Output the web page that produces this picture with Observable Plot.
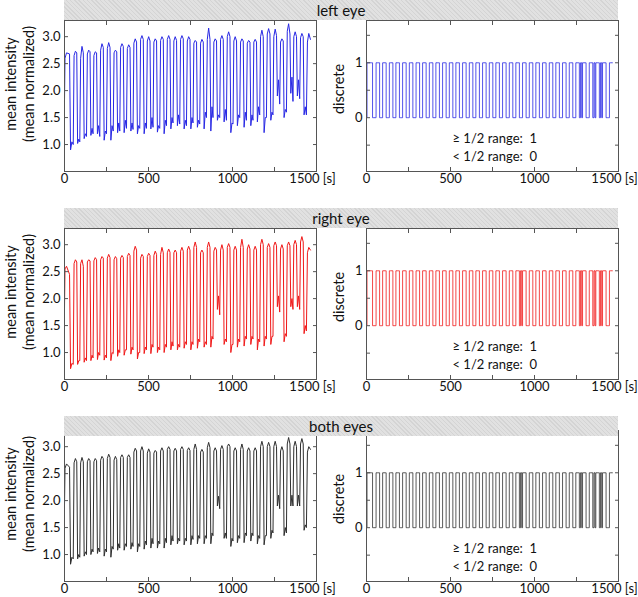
<!DOCTYPE html>
<html><head><meta charset="utf-8">
<script src="https://cdn.jsdelivr.net/npm/d3@7"></script>
<script src="https://cdn.jsdelivr.net/npm/@observablehq/plot@0.6"></script>
<style>
body{margin:0;background:#fff;font-family:Lato,sans-serif}
#wrap{position:relative;width:638px;height:597px;overflow:hidden;background:#fff}
#wrap svg{position:absolute;overflow:visible}
.hdr{position:absolute;left:64px;width:554px;height:20px;
 background:repeating-linear-gradient(45deg,#d4d4d4 0 1px,#e1e1e1 1px 3px);
 font:15px Lato,sans-serif;color:#111;text-align:center;line-height:20px}
</style></head><body><div id="wrap"></div>
<script>
// vertex times [s], shared by the three recordings (6 vertices per cycle)
const time = [
0,3,12,30,36,44, 52,57,65,73,78,85, 91,96,104,112,117,124, 131,136,144,152,157,164,
170,175,183,191,196,203, 210,215,223,231,236,243, 250,255,263,271,276,283, 290,295,303,311,316,323,
329,334,342,350,355,362, 369,374,382,390,395,402, 408,413,421,429,434,441, 448,453,461,469,474,481,
488,493,501,509,514,521, 527,532,540,548,553,560, 567,572,580,588,593,600, 607,612,620,628,633,640,
646,651,659,667,672,679, 686,691,699,707,712,719, 726,731,739,747,752,759, 765,770,778,786,791,798,
805,810,818,826,831,838, 845,850,858,866,871,878, 884,889,897,905,910,917, 924,929,937,945,950,957,
964,969,977,985,990,997, 1003,1008,1016,1024,1029,1036, 1043,1048,1056,1064,1069,1076, 1083,1088,1096,1104,1109,1116,
1122,1127,1135,1143,1148,1155, 1162,1167,1175,1183,1188,1195, 1202,1207,1215,1223,1228,1235, 1241,1246,1254,1262,1267,1274,
1281,1286,1294,1302,1307,1314, 1321,1326,1334,1342,1347,1354, 1360,1365,1373,1381,1386,1393, 1400,1405,1413,1421,1426,1433,
1440,1446,1454,1464];

const leftEye = [
1.8,2.6,2.7,2.68,0.9,1.05, 1.0,2.65,2.73,2.7,1.02,1.1, 1.05,2.6,2.82,2.7,1.11,1.2, 1.15,2.68,2.75,2.72,1.17,1.3,
1.2,2.65,2.72,2.7,1.2,1.35, 1.15,2.75,2.87,2.8,1.08,1.25, 1.2,2.78,2.89,2.8,1.08,1.35, 1.25,2.7,2.75,2.72,1.22,1.4,
1.25,2.8,2.87,2.82,1.22,1.45, 1.3,2.78,2.85,2.8,1.25,1.4, 1.28,2.88,2.96,2.9,1.2,1.35, 1.3,2.95,3.02,2.95,1.2,1.4,
1.3,2.92,3.0,2.92,1.29,1.5, 1.32,2.9,2.96,2.92,1.23,1.35, 1.3,2.93,3.0,2.95,1.2,1.45, 1.35,2.95,3.02,2.95,1.29,1.5,
1.4,2.92,3.0,2.93,1.35,1.55, 1.38,2.95,3.02,2.96,1.29,1.45, 1.35,2.92,3.0,2.95,1.29,1.5, 1.4,2.88,2.93,2.9,1.32,1.45,
1.38,2.88,2.95,2.9,1.29,1.6, 1.5,2.95,3.16,2.95,1.25,1.7, 1.5,2.9,2.96,2.92,1.45,1.55, 1.5,2.95,3.02,2.95,1.42,1.65,
1.45,3.0,3.09,3.0,1.22,1.4, 1.38,2.92,3.0,2.92,1.35,1.55, 1.5,2.9,2.96,2.92,1.32,1.6, 1.45,2.88,2.93,2.9,1.35,1.55,
1.45,2.9,2.95,2.9,1.42,1.7, 1.55,3.0,3.12,3.0,1.22,1.5, 1.5,3.05,3.15,3.05,1.45,1.6, 1.55,3.0,3.14,3.02,1.9,2.2,
1.75,2.9,2.96,2.92,1.5,1.65, 1.6,3.1,3.24,3.05,1.95,2.25, 1.8,3.0,3.09,3.0,1.9,2.2, 1.85,2.98,3.06,3.0,1.55,1.7,
1.55,2.9,3.06,2.95];

const rightEye = [
1.8,2.55,2.6,2.45,0.7,0.8, 0.78,2.65,2.72,2.68,0.78,0.85, 0.85,2.65,2.72,2.6,0.82,0.9, 0.85,2.68,2.72,2.7,0.85,0.95,
0.9,2.7,2.76,2.72,0.87,1.0, 0.95,2.72,2.78,2.75,0.86,0.95, 0.9,2.75,2.82,2.76,0.85,1.0, 0.98,2.72,2.78,2.74,0.93,1.05,
1.0,2.75,2.8,2.76,0.95,1.05, 1.05,2.78,2.84,2.8,0.97,1.1, 1.05,2.88,2.97,2.9,0.88,1.0, 1.0,2.75,2.82,2.78,0.98,1.1,
1.05,2.78,2.84,2.8,0.98,1.15, 1.1,2.8,2.88,2.82,1.0,1.1, 1.05,2.82,2.95,2.85,1.0,1.15, 1.1,2.85,2.92,2.86,1.05,1.2,
1.12,2.85,2.9,2.85,1.05,1.15, 1.1,2.88,2.95,2.88,1.08,1.2, 1.15,2.9,2.97,2.9,1.05,1.2, 1.15,2.95,3.05,2.95,1.08,1.25,
1.2,2.85,2.9,2.85,1.1,1.2, 1.15,2.95,3.05,2.95,1.1,1.3, 1.25,2.88,2.95,2.9,1.8,2.05, 1.7,2.9,3.0,2.9,1.15,1.25,
1.2,2.95,3.02,2.95,1.0,1.15, 1.15,2.9,2.97,2.9,1.1,1.25, 1.2,2.95,3.1,2.95,1.12,1.3, 1.25,2.92,3.0,2.92,1.15,1.3,
1.25,2.9,2.97,2.9,1.05,1.25, 1.2,3.0,3.1,3.0,1.12,1.3, 1.25,2.95,3.02,2.95,1.15,1.3, 1.3,2.98,3.05,2.98,1.85,2.05,
1.75,2.92,3.0,2.92,1.2,1.35, 1.3,2.98,3.05,2.98,1.85,2.0, 1.8,3.0,3.08,3.0,1.85,2.05, 1.8,3.05,3.15,3.05,1.35,1.5,
1.4,2.85,2.95,2.9];

const bothEyes = [
1.9,2.6,2.68,2.62,0.82,0.95, 0.92,2.7,2.78,2.72,0.92,1.0, 0.95,2.7,2.8,2.72,0.97,1.05, 1.0,2.72,2.78,2.74,1.0,1.1,
1.05,2.72,2.78,2.74,1.02,1.12, 1.05,2.75,2.82,2.78,0.97,1.1, 1.05,2.78,2.86,2.8,0.95,1.15, 1.1,2.75,2.82,2.76,1.08,1.2,
1.12,2.8,2.85,2.8,1.08,1.2, 1.15,2.8,2.85,2.8,1.1,1.22, 1.15,2.9,2.97,2.92,1.05,1.2, 1.15,2.92,3.0,2.92,1.1,1.25,
1.18,2.88,2.96,2.9,1.12,1.3, 1.2,2.88,2.93,2.9,1.12,1.25, 1.2,2.92,2.98,2.92,1.12,1.3, 1.22,2.95,3.0,2.95,1.18,1.35,
1.25,2.92,2.97,2.92,1.2,1.3, 1.25,2.95,3.0,2.95,1.18,1.3, 1.25,2.93,2.98,2.93,1.18,1.35, 1.28,2.95,3.05,2.95,1.2,1.35,
1.3,2.9,2.95,2.9,1.2,1.35, 1.3,2.98,3.08,2.98,1.2,1.4, 1.35,2.92,2.98,2.92,1.9,2.08, 1.85,2.95,3.02,2.95,1.3,1.4,
1.3,3.0,3.05,3.0,1.15,1.3, 1.25,2.92,2.98,2.92,1.22,1.35, 1.3,2.95,3.05,2.95,1.22,1.4, 1.35,2.92,2.98,2.92,1.25,1.4,
1.35,2.92,2.98,2.92,1.2,1.35, 1.3,3.0,3.1,3.0,1.18,1.35, 1.35,3.0,3.08,3.0,1.3,1.45, 1.4,3.0,3.1,3.0,1.9,2.1,
1.85,2.92,3.0,2.92,1.35,1.5, 1.4,3.05,3.17,3.05,1.9,2.1, 1.9,3.0,3.1,3.0,1.9,2.1, 1.9,3.05,3.15,3.05,1.45,1.55,
1.5,2.9,3.0,2.95];

const panelTitles = ["left eye", "right eye", "both eyes"];
const series = [leftEye, rightEye, bothEyes];
const colors = ["#2727e4", "#f01818", "#2e2e2e"];
const xTicks = [0,250,500,750,1000,1250,1500];
const xLabels = [0,500,1000];
const xLastLabel = [1500];
const yTicksCont = [1.0,1.5,2.0,2.5,3.0];
const yTicksDisc = [-0.5,0,0.5,1,1.5];
const yLabelsDisc = [0,1];
const yTitleCont = "mean intensity\n(mean normalized)";
const yTitleDisc = "discrete";
const noteText = "≥ 1/2 range:  1\n< 1/2 range:  0";

const wrap = document.getElementById("wrap");
const rowTop = [0,208,410];
const hdrTop = [0,208,416];
const frameColor = "#555";
const style = {fontFamily:"Lato, sans-serif", fontSize:"13px", background:"transparent", overflow:"visible", color:"#111"};

function axes(yTicks, yFmt) {
  return [
    Plot.frame({stroke: frameColor}),
    Plot.axisX({ticks:xTicks, tickSize:-4, tickFormat:()=>"", label:null, stroke:frameColor}),
    Plot.axisX({anchor:"top", ticks:xTicks, tickSize:-4, tickFormat:()=>"", label:null, stroke:frameColor}),
    Plot.axisX({ticks:xLabels, tickSize:0, tickPadding:2, label:null, tickFormat: d => String(d)}),
    Plot.axisX({ticks:xLastLabel, tickSize:0, tickPadding:2, label:null, dx:-4, tickFormat: d => d + " [s]"}),
    Plot.axisY({ticks:yTicks, tickSize:-4, tickFormat:()=>"", label:null, stroke:frameColor}),
    Plot.axisY({anchor:"right", ticks:yTicks, tickSize:-4, tickFormat:()=>"", label:null, stroke:frameColor}),
    Plot.axisY({ticks:yTicks, tickSize:0, tickPadding:4, label:null, tickFormat:yFmt})
  ];
}

series.forEach((vals, i) => {
  const data = time.map((t, j) => ({t, v: vals[j]}));
  const thr = (d3.min(vals) + d3.max(vals)) / 2;
  const disc = data.map(d => ({t: d.t, v: d.v >= thr ? 1 : 0}));

  const left = Plot.plot({
    width:336, height:186, marginLeft:64, marginRight:20, marginTop:5, marginBottom:30,
    style, x:{domain:[0,1500]}, y:{domain:[0.5,3.3]},
    marks:[
      Plot.line(data, {x:"t", y:"v", stroke:colors[i], strokeWidth:1}),
      ...axes(yTicksCont, d => d.toFixed(1)),
      Plot.text([yTitleCont], {frameAnchor:"left", textAnchor:"middle", lineAnchor:"middle", rotate:-90, dx:-45, dy:-12, fontSize:14.5, lineHeight:1.25, fill:"#111"})
    ]
  });
  left.style.left = "0px"; left.style.top = (rowTop[i] + 15) + "px";
  wrap.appendChild(left);

  const right = Plot.plot({
    width:320, height:186, marginLeft:48, marginRight:20, marginTop:5, marginBottom:30,
    style, x:{domain:[0,1500]}, y:{domain:[-0.98,1.77]},
    marks:[
      Plot.line(disc, {x:"t", y:"v", curve:"step-after", stroke:colors[i], strokeWidth:0.8}),
      ...axes(yTicksDisc, d => yLabelsDisc.includes(d) ? String(d) : ""),
      Plot.text([yTitleDisc], {frameAnchor:"left", textAnchor:"middle", lineAnchor:"middle", rotate:-90, dx:-27, dy:-7, fontSize:14.5, fill:"#111"}),
      Plot.text([noteText], {frameAnchor:"bottom-left", lineAnchor:"middle", textAnchor:"start", dx:86, dy:-25, fontSize:13, lineHeight:1.38, fill:"#111"})
    ]
  });
  right.style.left = "318px"; right.style.top = (rowTop[i] + 15) + "px";
  wrap.appendChild(right);

  const h = document.createElement("div");
  h.className = "hdr"; h.style.top = hdrTop[i] + "px"; h.textContent = panelTitles[i];
  wrap.appendChild(h);
});
</script></body></html>
